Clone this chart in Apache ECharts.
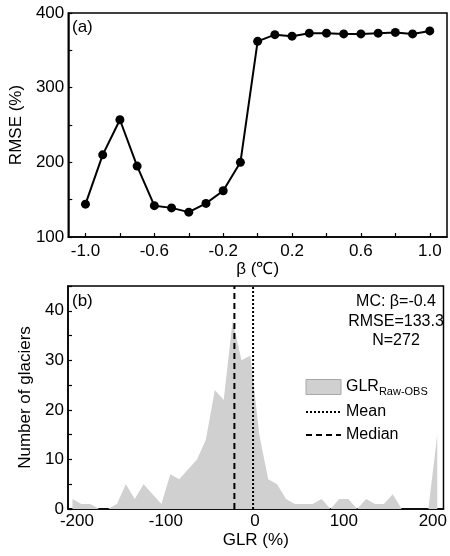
<!DOCTYPE html>
<html><head><meta charset="utf-8">
<script src="https://cdn.jsdelivr.net/npm/echarts@6/dist/echarts.min.js"></script>
<style>html,body{margin:0;padding:0;background:#fff}#c{width:450px;height:556px}</style>
</head><body><div id="c"></div>
<script>
// Panel (a): RMSE vs beta
const betaValues = [-1.0,-0.9,-0.8,-0.7,-0.6,-0.5,-0.4,-0.3,-0.2,-0.1,0.0,0.1,0.2,0.3,0.4,0.5,0.6,0.7,0.8,0.9,1.0];
const rmseValues = [144,210,257,195,142,139,133.3,145,162,200,362,371,369,373,373,372,372,373,374,372,376];
const betaLabels = [-1.0,-0.6,-0.2,0.2,0.6,1.0];
const betaTicks = [-1.0,-0.8,-0.6,-0.4,-0.2,0.0,0.2,0.4,0.6,0.8,1.0];
const rmseLabels = [100,200,300,400];
const rmseTicks = [100,150,200,250,300,350,400];
// Panel (b): GLR histogram
const glrBins = [-205,-195,-185,-175,-165,-155,-145,-135,-125,-115,-105,-95,-85,-75,-65,-55,-45,-35,-25,-15,-5,5,15,25,35,45,55,65,75,85,95,105,115,125,135,145,155,165,175,185,195,205];
const glrCounts = [2,1,1,0,0,1,5,2,5,3,1,7,6,8,10,14,24,22,38,30,31,15,6,5,2,1,1,1,2,0,2,2,0,2,1,1,3,0,0,0,0,15];
const glrLabels = [-200,-100,0,100,200];
const glrTicks = [-200,-150,-100,-50,0,50,100,150,200];
const countLabels = [0,10,20,30,40];
const countTicks = [0,5,10,15,20,25,30,35,40,45];
const glrMean = -2;
const glrMedian = -23;
const statLines = ['MC: β=-0.4','RMSE=133.3','N=272'];

const FONT = 'Liberation Sans, Arial, sans-serif';
const chart = echarts.init(document.getElementById('c'), null, {renderer:'canvas'});
const axisBase = {
  axisLine:{show:true, onZero:false, lineStyle:{color:'#000', width:1.5}},
  splitLine:{show:false},
  nameTextStyle:{color:'#000', fontSize:17, fontFamily:FONT}
};
function mk(extra){ return Object.assign({}, JSON.parse(JSON.stringify(axisBase)), extra); }
const hidden = {color:'rgba(0,0,0,0)', borderColor:'rgba(0,0,0,0)', borderWidth:0};

chart.setOption({
  animation:false,
  backgroundColor:'#fff',
  grid:[
    {left:68, right:3, top:13, height:224, show:true, borderColor:'#000', borderWidth:1.5, backgroundColor:'transparent'},
    {left:68, right:3, top:286, height:223, show:true, borderColor:'#000', borderWidth:1.5, backgroundColor:'transparent'}
  ],
  xAxis:[
    mk({type:'value', gridIndex:0, min:-1.1, max:1.1, name:'β (℃)', nameLocation:'middle', nameGap:21,
      axisTick:{show:true, inside:true, length:4, customValues:betaTicks, lineStyle:{color:'#000', width:1.2}},
      axisLabel:{color:'#000', fontSize:17, fontFamily:FONT, margin:6, customValues:betaLabels, formatter:v=>v.toFixed(1)}}),
    mk({type:'value', gridIndex:1, min:-210, max:212, name:'GLR (%)', nameLocation:'middle', nameGap:23,
      axisTick:{show:true, inside:true, length:4, customValues:glrTicks, lineStyle:{color:'#000', width:1.2}},
      axisLabel:{color:'#000', fontSize:17, fontFamily:FONT, margin:4, customValues:glrLabels}})
  ],
  yAxis:[
    mk({type:'value', gridIndex:0, min:100, max:400, name:'RMSE (%)', nameLocation:'middle', nameGap:43,
      axisTick:{show:true, inside:true, length:4, customValues:rmseTicks, lineStyle:{color:'#000', width:1.2}},
      axisLabel:{color:'#000', fontSize:17, fontFamily:FONT, margin:4, customValues:rmseLabels}}),
    mk({type:'value', gridIndex:1, min:0, max:45, name:'Number of glaciers', nameLocation:'middle', nameGap:22,
      axisTick:{show:true, inside:true, length:4, customValues:countTicks, lineStyle:{color:'#000', width:1.2}},
      axisLabel:{color:'#000', fontSize:17, fontFamily:FONT, margin:4, customValues:countLabels}})
  ],
  legend:{
    orient:'vertical', left:305, top:379, padding:0, itemWidth:35, itemHeight:15, itemGap:7,
    textStyle:{color:'#000', fontSize:16, fontFamily:FONT,
      rich:{a:{fontSize:16, fontFamily:FONT, color:'#000'}, sub:{fontSize:11, fontFamily:FONT, color:'#000', padding:[9,0,0,0]}}},
    formatter: n => n==='GLR' ? '{a|GLR}{sub|Raw-OBS}' : n,
    data:[
      {name:'GLR', icon:'rect', itemStyle:{color:'#d0d0d0', borderColor:'#a8a8a8', borderWidth:1}},
      {name:'Mean', itemStyle:hidden},
      {name:'Median', itemStyle:hidden}
    ]
  },
  graphic:[
    {type:'text', left:72, top:19, style:{text:'(a)', fontSize:17, fontFamily:FONT, fill:'#000'}},
    {type:'text', left:72, top:293, style:{text:'(b)', fontSize:17, fontFamily:FONT, fill:'#000'}},
    {type:'text', x:396, y:292, style:{text:statLines.join('\n'), fontSize:16, lineHeight:19.5, align:'center', fontFamily:FONT, fill:'#000'}}
  ],
  series:[
    {type:'line', xAxisIndex:0, yAxisIndex:0, data:betaValues.map((b,i)=>[b,rmseValues[i]]),
      symbol:'circle', symbolSize:9, itemStyle:{color:'#000'}, lineStyle:{color:'#000', width:2}},
    {name:'GLR', type:'line', xAxisIndex:1, yAxisIndex:1, data:glrBins.map((b,i)=>[b,glrCounts[i]]),
      symbol:'none', lineStyle:{width:0, color:'#d0d0d0'}, itemStyle:{color:'#d0d0d0'}, areaStyle:{color:'#d0d0d0', opacity:1}, z:1},
    {name:'Mean', type:'line', xAxisIndex:1, yAxisIndex:1, data:[[glrMean,0],[glrMean,45]],
      symbol:'none', itemStyle:{color:'#000'}, lineStyle:{color:'#000', width:2, type:[2,2]}, z:3},
    {name:'Median', type:'line', xAxisIndex:1, yAxisIndex:1, data:[[glrMedian,0],[glrMedian,45]],
      symbol:'none', itemStyle:{color:'#000'}, lineStyle:{color:'#000', width:2, type:[6,4]}, z:3}
  ]
});
</script></body></html>
